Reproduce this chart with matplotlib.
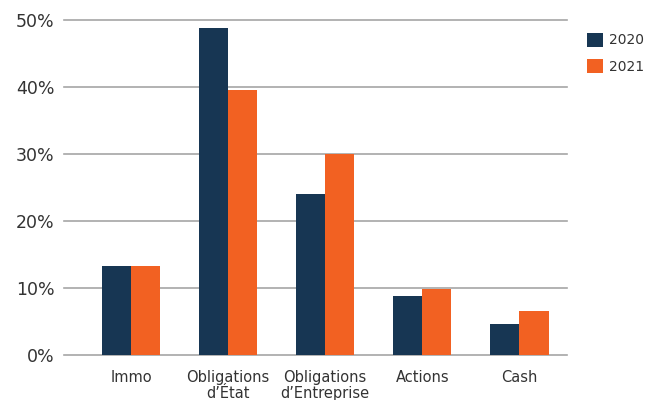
import numpy as np
import matplotlib.pyplot as plt

categories = ["Immo", "Obligations\nd\u2019\u00c9tat", "Obligations\nd\u2019Entreprise", "Actions", "Cash"]
years = ["2020", "2021"]
values_2020 = [13.3, 48.8, 24.0, 8.8, 4.6]
values_2021 = [13.3, 39.6, 30.0, 9.9, 6.6]
yticks = [0, 10, 20, 30, 40, 50]

dark = "#173653"
orange = "#f26122"
grid_col = "#a6a6a6"
text_col = "#333333"

plt.rcParams["font.family"] = ["DejaVu Sans"]

fig = plt.figure(figsize=(6.45, 4.0), dpi=100)
ax = fig.add_axes([64 / 645, 1 - 355 / 400, (567 - 64) / 645, (355 - 20) / 400])

x = np.arange(len(categories))
w = 0.3
ax.bar(x - w / 2, values_2020, w, color=dark, label=years[0], zorder=3)
ax.bar(x + w / 2, values_2021, w, color=orange, label=years[1], zorder=3)

ax.set_xlim(-0.69, 4.49)
ax.set_ylim(0, 50)
ax.set_yticks(yticks)
ax.set_yticklabels([f"{v}%" for v in yticks], fontsize=12.5, color=text_col)
ax.set_xticks(x)
ax.set_xticklabels(categories, fontsize=10.5, color=text_col, linespacing=1.05)
ax.tick_params(axis="both", length=0)
ax.tick_params(axis="y", pad=7)
ax.tick_params(axis="x", pad=11)

for v in yticks:
    ax.axhline(v, color=grid_col, lw=1.2, zorder=1, clip_on=False)
for s in ax.spines.values():
    s.set_visible(False)

leg = fig.legend(loc="upper left", bbox_to_anchor=(581 / 645, 1 - 27 / 400), frameon=False,
                 fontsize=10, handlelength=1.2, handleheight=1.2, handletextpad=0.45,
                 labelspacing=0.85, borderaxespad=0)
for t in leg.get_texts():
    t.set_color(text_col)

fig.savefig("out.png", dpi=100)
